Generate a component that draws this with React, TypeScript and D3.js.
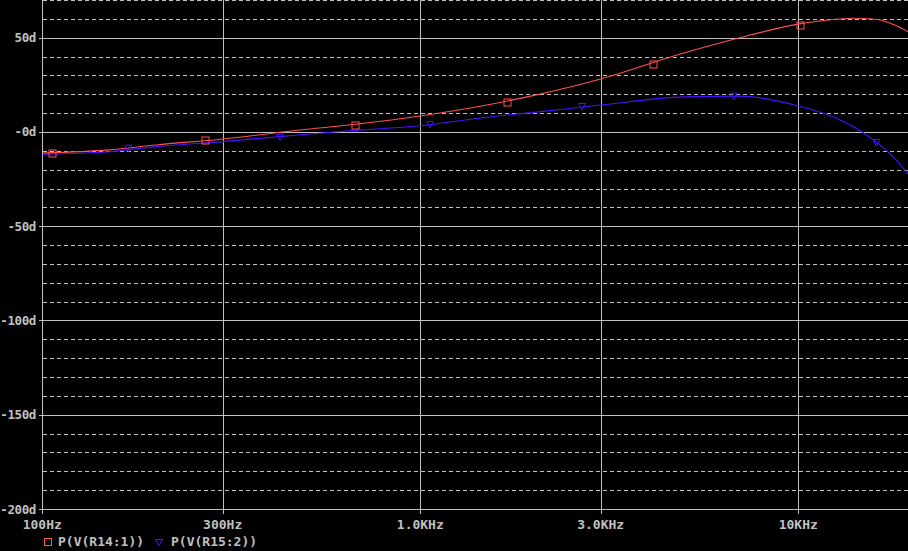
import React from 'react';
import * as d3 from 'd3';

// ---- data ----
const freqs = [100, 150, 200, 300, 500, 700, 1000, 1500, 2000, 3000, 5000, 7000, 10000, 12000, 14000, 16000, 18000, 20000];
const redVals = [-11.2, -9.5, -6.9, -3.7, 1.4, 4.5, 8.5, 14.3, 19.4, 28.1, 42.0, 50.0, 57.2, 59.4, 60.3, 59.8, 56.8, 52.0];
const blueVals = [-11.8, -10.5, -7.8, -5.1, -1.2, 1.1, 3.3, 7.8, 10.4, 14.3, 18.6, 19.0, 13.8, 9.0, 2.8, -5.0, -14.0, -25.0];

const redMarkerFreqs = [106, 269, 671, 1694, 4124, 10100];
const redMarkerVals = [-11.1, -4.3, 3.7, 15.9, 36.1, 57.0];
const blueMarkerFreqs = [169, 426, 1061, 2678, 6760, 16100];
const blueMarkerVals = [-8.6, -2.8, 4.0, 13.5, 19.0, -5.6];

const xTicks = [100, 300, 1000, 3000, 10000];
const xTickLabels = ['100Hz', '300Hz', '1.0KHz', '3.0KHz', '10KHz'];
const yMajor = [50, 0, -50, -100, -150, -200];
const yLabels = ['50d', '-0d', '-50d', '-100d', '-150d', '-200d'];
const yMinor = d3.range(-190, 71, 10).filter((v) => v % 50 !== 0);
const legendLabels = ['P(V(R14:1))', 'P(V(R15:2))'];

const RED = '#ff5050';
const BLUE = '#4a10ff';
const GRID = '#c0c0c0';
const FONT = '"DejaVu Sans Mono", monospace';

export default function App() {
  const W = 908, H = 551;
  const left = 42.3;
  const x = d3.scaleLog().domain([100, 20000]).range([left, left + Math.log10(200) * 378]);
  const y = d3.scaleLinear().domain([-200, 70]).range([509, 0]);
  const cx = (v: number) => Math.round(x(v)) + 0.5;
  const cy = (v: number) => Math.round(y(v)) + 0.5;

  const line = d3
    .line<number>()
    .x((_, i) => x(freqs[i]))
    .y((d) => y(d))
    .curve(d3.curveMonotoneX);

  const axisY = cy(-200);
  const axisX = cx(100);

  return (
    <svg
      width={W}
      height={H}
      style={{ position: 'absolute', left: 0, top: 0, background: '#000', display: 'block' }}
    >
      <rect x={0} y={0} width={W} height={H} fill="#000" />
      <defs>
        <clipPath id="plot">
          <rect x={axisX} y={0} width={W - axisX} height={axisY} />
        </clipPath>
      </defs>
      {/* minor dashed grid */}
      {yMinor.map((v) => (
        <line key={'m' + v} x1={axisX} x2={W} y1={cy(v)} y2={cy(v)} stroke={GRID} strokeDasharray="4 3" shapeRendering="crispEdges" />
      ))}
      {/* major solid grid */}
      {yMajor.map((v) => (
        <line key={'M' + v} x1={axisX - 4} x2={W} y1={cy(v)} y2={cy(v)} stroke={GRID} shapeRendering="crispEdges" />
      ))}
      {/* vertical grid */}
      {xTicks.map((f) => (
        <line key={'v' + f} x1={cx(f)} x2={cx(f)} y1={0} y2={axisY + 4} stroke={GRID} shapeRendering="crispEdges" />
      ))}
      {/* y labels */}
      {yMajor.map((v, i) => (
        <text key={'yl' + v} x={36} y={y(v) + 4.5} textAnchor="end" fill={GRID} fontFamily={FONT} fontWeight="bold" fontSize={12.5} letterSpacing={-0.4}>
          {yLabels[i]}
        </text>
      ))}
      {/* x labels */}
      {xTicks.map((f, i) => (
        <text key={'xl' + f} x={x(f)} y={529} textAnchor="middle" fill={GRID} fontFamily={FONT} fontWeight="bold" fontSize={13}>
          {xTickLabels[i]}
        </text>
      ))}
      {/* curves */}
      <g clipPath="url(#plot)">
        <path d={line(blueVals) || ''} fill="none" stroke={BLUE} strokeWidth={1.1} />
        <path d={line(redVals) || ''} fill="none" stroke={RED} strokeWidth={1.1} />
        {blueMarkerFreqs.map((f, i) => {
          const px = x(f), py = y(blueMarkerVals[i]);
          return (
            <path key={'bm' + i} d={`M${px - 3.5},${py - 3} L${px + 3.5},${py - 3} L${px},${py + 3.5} Z`} fill="none" stroke={BLUE} strokeWidth={1} />
          );
        })}
        {redMarkerFreqs.map((f, i) => {
          const px = Math.round(x(f)) + 0.5, py = Math.round(y(redMarkerVals[i])) + 0.5;
          return <rect key={'rm' + i} x={px - 3.5} y={py - 3.5} width={7} height={7} fill="none" stroke={RED} strokeWidth={1} />;
        })}
      </g>
      {/* legend */}
      <rect x={44.5} y={538.5} width={7} height={7} fill="none" stroke={RED} strokeWidth={1} />
      <text x={58} y={546} fill={GRID} fontFamily={FONT} fontWeight="bold" fontSize={13}>
        {legendLabels[0]}
      </text>
      <path d="M155.5,539.5 L162.5,539.5 L159,546 Z" fill="none" stroke={BLUE} strokeWidth={1} />
      <text x={171} y={546} fill={GRID} fontFamily={FONT} fontWeight="bold" fontSize={13}>
        {legendLabels[1]}
      </text>
    </svg>
  );
}
